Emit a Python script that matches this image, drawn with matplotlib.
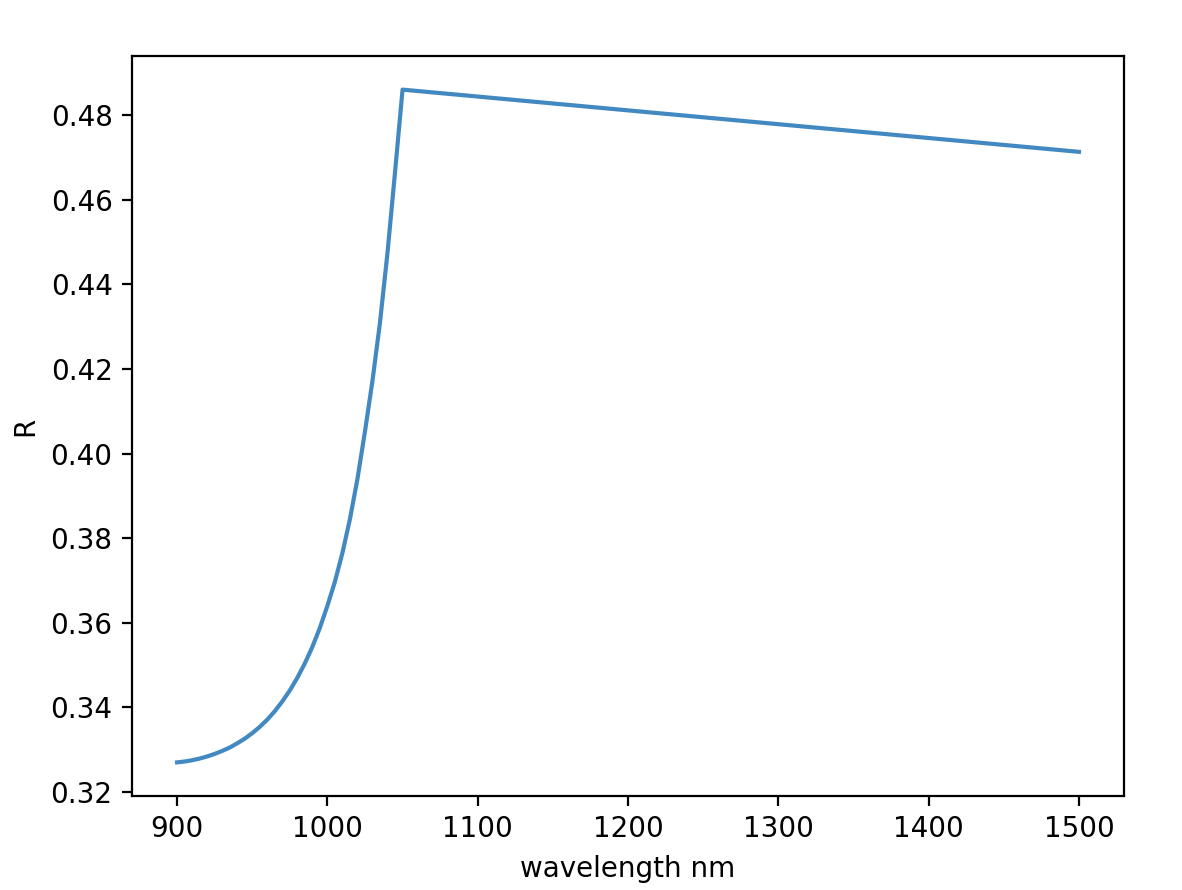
import matplotlib
matplotlib.use("Agg")
import matplotlib.pyplot as plt

wavelength = [900, 905, 910, 915, 920, 925, 930, 935, 940, 945,
              950, 955, 960, 965, 970, 975, 980, 985, 990, 995,
              1000, 1005, 1010, 1015, 1020, 1025, 1030, 1035, 1040, 1045,
              1050, 1500]
R = [0.3270, 0.3272, 0.3275, 0.3279, 0.3284, 0.3290, 0.3297, 0.3305, 0.3315, 0.3326,
     0.3339, 0.3354, 0.3371, 0.3391, 0.3414, 0.3440, 0.3470, 0.3504, 0.3543, 0.3588,
     0.3640, 0.3697, 0.3765, 0.3845, 0.3940, 0.4052, 0.4172, 0.4310, 0.4475, 0.4665,
     0.4860, 0.4713]


def main(out_png="out.png"):
    dpi = 200
    fig = plt.figure(figsize=(1182 / dpi, 890 / dpi), dpi=dpi)
    ax = fig.add_axes([132 / 1182, 1 - 796 / 890, 992 / 1182, 740 / 890])
    ax.plot(wavelength, R, color="#4289c1", linewidth=1.5)
    ax.set_xlabel("wavelength nm")
    ax.set_ylabel("R")
    fig.savefig(out_png, dpi=dpi)
    plt.close(fig)


if __name__ == "__main__":
    main()
